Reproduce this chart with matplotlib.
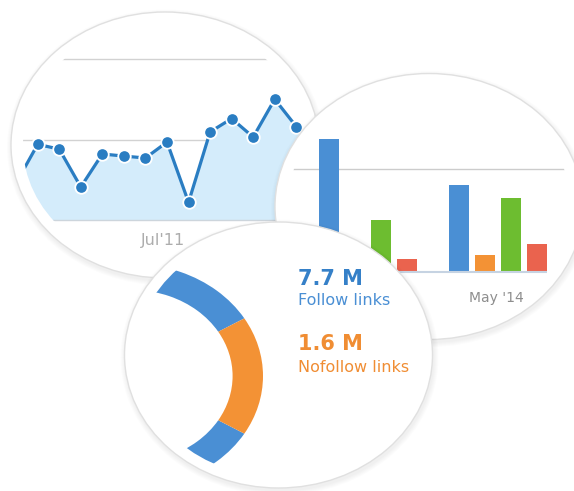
import matplotlib
matplotlib.use("Agg")
import matplotlib.pyplot as plt
from matplotlib.patches import Ellipse
import numpy as np

# ---------------- data ----------------
line_idx = list(range(-1, 14))
line_vals = [23, 47, 44, 20.5, 41, 39.7, 38.5, 48.4, 11, 54.7, 63, 51.5, 75, 58, 45]
line_grid = [50, 100]
line_label = "Jul'11"

bar_groups = [0, 5]
bar_blue = [130, 84.7]
bar_orange = [10, 16.3]
bar_green = [50.5, 71.7]
bar_red = [12, 26.8]
bar_grid = [100]
bar_label = "May '14"

donut_labels = ["Follow links", "Nofollow links"]
donut_values = [7.7, 1.6]
donut_texts = ["7.7 M", "1.6 M"]

# ---------------- layout ----------------
W, H = 574, 491
fig = plt.figure(figsize=(W / 100, H / 100), dpi=100)
fig.patch.set_facecolor("white")
base = fig.add_axes([0, 0, 1, 1])
base.set_xlim(0, W)
base.set_ylim(H, 0)
base.axis("off")

RX, RY = 154, 133
RXI, RYI = 142, 122
C1 = (165, 145)
C2 = (429, 206.5)
C3 = (278.5, 355)

BLUE = "#4a8fd4"
ORANGE = "#f39235"
GREEN = "#6dbd30"
RED = "#ea634e"


def px_rect(x0, y0, x1, y1):
    return [x0 / W, 1 - y1 / H, (x1 - x0) / W, (y1 - y0) / H]


def circle_bg(ax, c):
    for k in range(1, 6):
        sh = Ellipse((c[0] + 1, c[1] + 2.5), 2 * RX + 2 * k, 2 * RY + 2 * k,
                     transform=base.transData, fc="black", ec="none",
                     alpha=0.011, zorder=0.1, clip_on=False)
        ax.add_artist(sh)
    e = Ellipse(c, 2 * RX, 2 * RY, transform=base.transData, fc="white",
                ec="#e0e0e0", lw=1.0, zorder=0.5, clip_on=False)
    ax.add_artist(e)
    return Ellipse(c, 2 * RXI, 2 * RYI, transform=base.transData)


def prep(ax, z):
    ax.set_zorder(z)
    ax.patch.set_visible(False)
    ax.axis("off")


def clip(art, path):
    art.set_clip_on(True)
    art.set_clip_box(None)
    art.set_clip_path(path)


# ---------------- circle 1 : line chart ----------------
ax1 = fig.add_axes(px_rect(C1[0] - RX, C1[1] - RY, C1[0] + RX, C1[1] + RY))
prep(ax1, 1)
clip1 = circle_bg(ax1, C1)
X0, DX, Y0, DY = 37.7, 21.55, 220, 1.61
gl = ax1.hlines(line_grid, -5, 20, color="#d2d2d2", lw=1, zorder=1)
clip(gl, clip1)
fb = ax1.fill_between(line_idx, 0, line_vals, color="#d4ecfb", lw=0, zorder=2)
clip(fb, clip1)
bl = ax1.hlines([0], -5, 20, color="#cdd5dc", lw=1, zorder=2.5)
clip(bl, clip1)
ln, = ax1.plot(line_idx, line_vals, color="#2a7dc2", lw=2.3, marker="o", ms=9,
               mfc="#2a7dc2", mec="white", mew=1.3, zorder=3)
clip(ln, clip1)
ax1.set_xlim((C1[0] - RX - X0) / DX, (C1[0] + RX - X0) / DX)
ax1.set_ylim((Y0 - (C1[1] + RY)) / DY, (Y0 - (C1[1] - RY)) / DY)
ax1.text(5.8, (Y0 - 240) / DY, line_label, ha="center", va="center",
         fontsize=11.5, color="#adadad", family="DejaVu Sans")

# ---------------- circle 2 : bar chart ----------------
ax2 = fig.add_axes(px_rect(C2[0] - RX, C2[1] - RY, C2[0] + RX, C2[1] + RY))
prep(ax2, 2)
clip2 = circle_bg(ax2, C2)
BX0, BDX, BY0, BDY = 329, 26, 271.7, 1.024
g2 = ax2.hlines(bar_grid, -10, 20, color="#cccccc", lw=1, zorder=1)
clip(g2, clip2)
groups = np.array(bar_groups)
for j, (vals, col) in enumerate([(bar_blue, BLUE), (bar_orange, ORANGE),
                                  (bar_green, GREEN), (bar_red, RED)]):
    bars = ax2.bar(groups + j, vals, width=0.77, color=col, lw=0, zorder=2)
    for b in bars:
        clip(b, clip2)
b2 = ax2.hlines([0], -0.385, 8.385, color="#c6d3e2", lw=1.5, zorder=3)
clip(b2, clip2)
ax2.set_xlim((C2[0] - RX - BX0) / BDX, (C2[0] + RX - BX0) / BDX)
ax2.set_ylim((BY0 - (C2[1] + RY)) / BDY, (BY0 - (C2[1] - RY)) / BDY)
ax2.text(6.45, (BY0 - 298) / BDY, bar_label, ha="center", va="center",
         fontsize=10, color="#8e8e8e", family="DejaVu Sans")

# ---------------- circle 3 : donut ----------------
DC = (132, 376)
DRX, DRY = 131, 112
ax3 = fig.add_axes(px_rect(DC[0] - DRX, DC[1] - DRY, DC[0] + DRX, DC[1] + DRY))
prep(ax3, 3)
clip3 = circle_bg(ax3, C3)
start = 180 * donut_values[1] / sum(donut_values)
wedges, _ = ax3.pie(donut_values, colors=[BLUE, ORANGE], startangle=start,
                    counterclock=True, radius=1,
                    wedgeprops=dict(width=1 - 86 / 112, lw=0, edgecolor="none"))
for w in wedges:
    clip(w, clip3)
    w.set_zorder(2)
ax3.set_aspect("auto")
ax3.set_xlim(-1, 1)
ax3.set_ylim(-1, 1)

fam = ["DejaVu Sans"]
ax3.text(298, 285, donut_texts[0], transform=base.transData, ha="left",
         va="baseline", fontsize=15, fontweight="bold", color="#3580c8",
         family=fam, clip_on=False, zorder=5)
ax3.text(298, 305, donut_labels[0], transform=base.transData, ha="left",
         va="baseline", fontsize=11.5, color="#4a8fd4", family=fam,
         clip_on=False, zorder=5)
ax3.text(298, 350, donut_texts[1], transform=base.transData, ha="left",
         va="baseline", fontsize=15, fontweight="bold", color="#f08d33",
         family=fam, clip_on=False, zorder=5)
ax3.text(298, 372.5, donut_labels[1], transform=base.transData, ha="left",
         va="baseline", fontsize=11.5, color="#f08d33", family=fam,
         clip_on=False, zorder=5)

fig.savefig("out.png", dpi=100, facecolor="white")
